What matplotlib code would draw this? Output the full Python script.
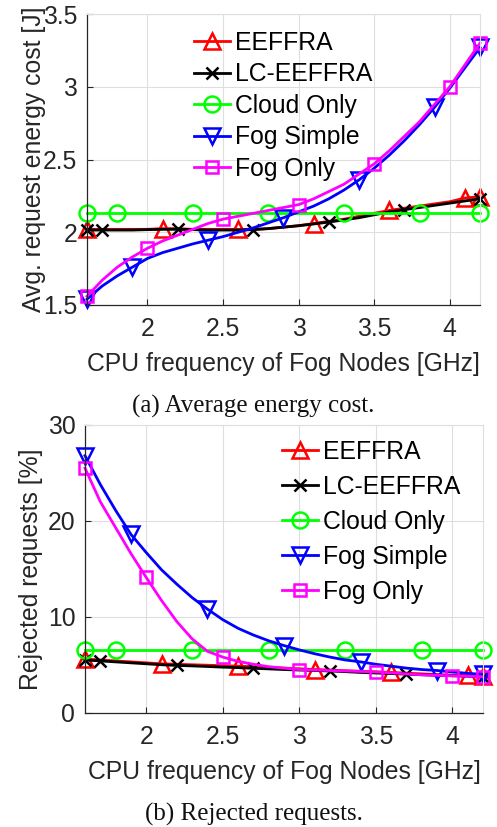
import matplotlib
matplotlib.use("Agg")
import matplotlib.pyplot as plt

# ---------------- data ----------------
freq = [1.6, 1.7, 1.8, 1.9, 2.0, 2.1, 2.2, 2.3, 2.4, 2.5, 2.6, 2.7, 2.8, 2.9,
        3.0, 3.1, 3.2, 3.3, 3.4, 3.5, 3.6, 3.7, 3.8, 3.9, 4.0, 4.1, 4.2]

series_names = ["EEFFRA", "LC-EEFFRA", "Cloud Only", "Fog Simple", "Fog Only"]

# (a) Average energy cost [J]
energy_eeffra = [2.02, 2.02, 2.02, 2.02, 2.02, 2.025, 2.025, 2.02, 2.02, 2.02, 2.02, 2.02, 2.025, 2.035,
                 2.045, 2.06, 2.075, 2.09, 2.11, 2.13, 2.15, 2.165, 2.18, 2.195, 2.21, 2.235, 2.245]
energy_lc = [2.015, 2.015, 2.015, 2.015, 2.018, 2.02, 2.02, 2.018, 2.015, 2.015, 2.015, 2.018, 2.025, 2.035,
             2.045, 2.057, 2.07, 2.085, 2.10, 2.12, 2.14, 2.155, 2.17, 2.185, 2.20, 2.215, 2.23]
energy_cloud = [2.13] * 27
energy_fogsimple = [1.54, 1.63, 1.70, 1.76, 1.82, 1.86, 1.89, 1.92, 1.945, 1.97, 2.00, 2.03, 2.065, 2.10,
                    2.14, 2.18, 2.23, 2.29, 2.36, 2.44, 2.53, 2.63, 2.74, 2.86, 2.99, 3.13, 3.27]
energy_fogonly = [1.56, 1.67, 1.76, 1.83, 1.89, 1.94, 1.98, 2.02, 2.06, 2.09, 2.11, 2.13, 2.15, 2.17,
                  2.19, 2.23, 2.28, 2.33, 2.40, 2.47, 2.56, 2.66, 2.76, 2.88, 3.00, 3.15, 3.30]

# (b) Rejected requests [%]
rej_eeffra = [5.6, 5.5, 5.4, 5.3, 5.2, 5.1, 5.05, 5.0, 4.95, 4.9, 4.85, 4.8, 4.72, 4.65,
              4.58, 4.5, 4.45, 4.38, 4.32, 4.26, 4.2, 4.12, 4.05, 3.98, 3.92, 3.88, 3.82]
rej_lc = [5.5, 5.4, 5.3, 5.2, 5.1, 5.0, 4.93, 4.88, 4.82, 4.75, 4.7, 4.63, 4.57, 4.5,
          4.45, 4.4, 4.35, 4.28, 4.2, 4.14, 4.08, 4.02, 3.96, 3.9, 3.85, 3.8, 3.75]
rej_cloud = [6.5] * 27
rej_fogsimple = [26.8, 23.8, 21.1, 18.6, 16.7, 14.9, 13.4, 12.0, 10.8, 9.7, 8.8, 8.1, 7.5, 7.0,
                 6.55, 6.15, 5.8, 5.5, 5.3, 5.05, 4.85, 4.65, 4.5, 4.4, 4.25, 4.1, 4.0]
rej_fogonly = [25.5, 22.0, 19.3, 16.6, 14.1, 11.7, 9.5, 7.7, 6.4, 5.8, 5.35, 5.05, 4.8, 4.65,
               4.5, 4.45, 4.4, 4.35, 4.3, 4.25, 4.15, 4.05, 3.95, 3.9, 3.85, 3.8, 3.75]

xticks = [2, 2.5, 3, 3.5, 4]
xtick_labels = ["2", "2.5", "3", "3.5", "4"]
yticks_a = [1.5, 2, 2.5, 3, 3.5]
ytick_labels_a = ["1.5", "2", "2.5", "3", "3.5"]
yticks_b = [0, 10, 20, 30]
ytick_labels_b = ["0", "10", "20", "30"]

# ---------------- style ----------------
colors = ["#ff0000", "#000000", "#00ff00", "#0000ff", "#ff00ff"]
markers = ["^", "x", "o", "v", "s"]
msizes = [11.5, 8, 11.5, 11.5, 8.5]
markevery = [[0, 5, 10, 15, 20, 25, 26],
             [0, 1, 6, 11, 16, 21, 26],
             [0, 2, 7, 12, 17, 22, 26],
             [0, 3, 8, 13, 18, 23, 26],
             [0, 4, 9, 14, 19, 24, 26]]

SANS = ["Liberation Sans", "DejaVu Sans"]
SERIF = ["Liberation Serif", "DejaVu Serif"]
plt.rcParams["font.family"] = SANS
FS = 17.8
DARK = "#262626"
GRID = "#dedede"

W, H = 497, 827
fig = plt.figure(figsize=(W / 100, H / 100), dpi=100)


def axes_px(left, top, right, bottom):
    return fig.add_axes([left / W, 1 - bottom / H, (right - left) / W, (bottom - top) / H])


def style_axes(ax, yticks, yticklabels, ylim):
    ax.set_xlim(1.6, 4.2)
    ax.set_ylim(*ylim)
    ax.set_xticks(xticks)
    ax.set_xticklabels(xtick_labels)
    ax.set_yticks(yticks)
    ax.set_yticklabels(yticklabels)
    ax.grid(True, color=GRID, lw=0.8)
    ax.set_axisbelow(True)
    for s in ["left", "bottom"]:
        ax.spines[s].set_color(DARK)
        ax.spines[s].set_linewidth(0.9)
    for s in ["top", "right"]:
        ax.spines[s].set_color(GRID)
        ax.spines[s].set_linewidth(0.8)
    ax.tick_params(axis="both", direction="in", length=4, width=0.8, colors=DARK,
                   labelsize=FS, top=False, right=False)
    ax.tick_params(axis="x", pad=9)
    ax.tick_params(axis="y", pad=7)


def draw(ax, data):
    handles = []
    for i, ys in enumerate(data):
        h, = ax.plot(freq, ys, color=colors[i], lw=2, marker=markers[i], ms=msizes[i],
                     mfc="none", mec=colors[i], mew=1.8, markevery=markevery[i],
                     label=series_names[i], clip_on=False)
        handles.append(h)
    return handles


# ---------------- (a) ----------------
ax1 = axes_px(87, 14, 480, 305)
draw(ax1, [energy_eeffra, energy_lc, energy_cloud, energy_fogsimple, energy_fogonly])
style_axes(ax1, yticks_a, ytick_labels_a, (1.5, 3.5))
ax1.set_xlabel("CPU frequency of Fog Nodes [GHz]", fontsize=FS, color=DARK)
ax1.set_ylabel("Avg. request energy cost [J]", fontsize=FS, color=DARK)
ax1.xaxis.set_label_coords(0.5, -0.16)
ax1.yaxis.set_label_coords(-0.105, 0.5)
leg1 = ax1.legend(loc="upper left", bbox_to_anchor=(194 / W, 1 - 31 / H),
                  bbox_transform=fig.transFigure, frameon=False, fontsize=FS,
                  handlelength=1.45, handletextpad=0.2, labelspacing=0.3,
                  borderpad=0, borderaxespad=0)

# ---------------- (b) ----------------
ax2 = axes_px(85, 425, 483, 712.7)
draw(ax2, [rej_eeffra, rej_lc, rej_cloud, rej_fogsimple, rej_fogonly])
style_axes(ax2, yticks_b, ytick_labels_b, (0, 30))
ax2.set_xlabel("CPU frequency of Fog Nodes [GHz]", fontsize=FS, color=DARK)
ax2.set_ylabel("Rejected requests [%]", fontsize=FS, color=DARK)
ax2.xaxis.set_label_coords(0.5, -0.165)
ax2.yaxis.set_label_coords(-0.105, 0.5)
leg2 = ax2.legend(loc="upper left", bbox_to_anchor=(282 / W, 1 - 440 / H),
                  bbox_transform=fig.transFigure, frameon=False, fontsize=FS,
                  handlelength=1.45, handletextpad=0.2, labelspacing=0.44,
                  borderpad=0, borderaxespad=0)

# ---------------- captions ----------------
fig.text(253 / W, 1 - 413 / H, "(a) Average energy cost.", family=SERIF, fontsize=18,
         ha="center", va="baseline", color="#111111")
fig.text(254 / W, 1 - 821 / H, "(b) Rejected requests.", family=SERIF, fontsize=18,
         ha="center", va="baseline", color="#111111")

fig.savefig("out.png", dpi=100)
